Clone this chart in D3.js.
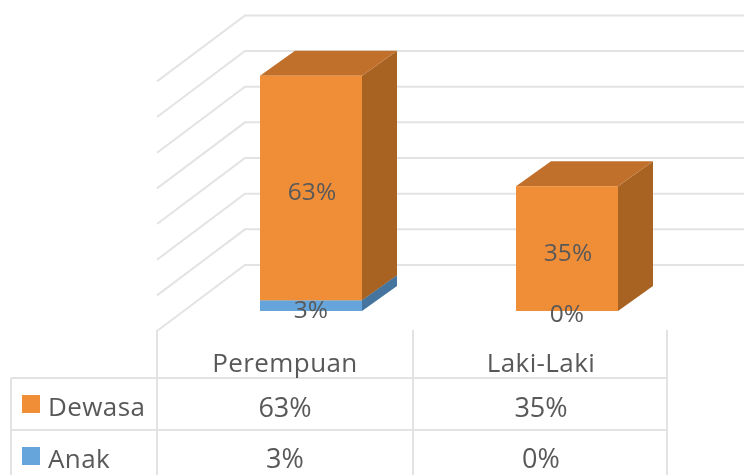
<!DOCTYPE html>
<html><head><meta charset="utf-8">
<script src="https://cdnjs.cloudflare.com/ajax/libs/d3/7.8.5/d3.min.js"></script>
<style>html,body{margin:0;padding:0;background:#fff}svg{display:block}text{font-family:"Open Sans",sans-serif;fill:#595959}</style>
</head><body><svg id="c" width="744" height="475"></svg>
<script>
const categories = ["Perempuan", "Laki-Laki"];
const seriesNames = ["Dewasa", "Anak"];
const dewasa = [63, 35];
const anak = [3, 0];
const gridTicks = [0, 10, 20, 30, 40, 50, 60, 70];

const svg = d3.select("#c");
const defs = svg.append("defs");
defs.append("filter").attr("id", "soft").attr("x", "-5%").attr("y", "-5%").attr("width", "110%").attr("height", "110%")
  .append("feGaussianBlur").attr("stdDeviation", 0.65);
const root = svg.append("g").attr("filter", "url(#soft)");

const y = d3.scaleLinear().domain([0, 70]).range([311, 61.4]);
const x = d3.scaleBand().domain(categories).range([157, 669]);
const barW = 102, barShift = 26;
const dx = 35, dy = -25;           // bar depth
const wallDx = 88, wallDy = -66, wallFront = 20; // wall depth
const colors = {
  Dewasa: { front: "#f08e39", top: "#c0702c", side: "#a86424" },
  Anak: { front: "#65a5db", top: "#4f86b3", side: "#44759f" }
};
const grid = "#e3e3e3";

// back wall grid
gridTicks.forEach(t => {
  const fy = y(t) + wallFront;
  root.append("path").attr("fill", "none").attr("stroke", grid).attr("stroke-width", 2)
    .attr("d", d3.line()([[157, fy], [157 + wallDx, fy + wallDy], [744, fy + wallDy]]));
});

// bars
const series = [{ name: "Anak", vals: anak }, { name: "Dewasa", vals: dewasa }];
categories.forEach((c, i) => {
  const x0 = x(c) + x.bandwidth() / 2 - barW / 2 + barShift, x1 = x0 + barW;
  let base = 0;
  series.forEach(s => {
    const v = s.vals[i];
    if (v > 0) {
      const yb = y(base), yt = y(base + v), col = colors[s.name];
      root.append("path").attr("fill", col.side).attr("d", d3.line()([[x1, yb], [x1 + dx, yb + dy], [x1 + dx, yt + dy], [x1, yt]]) + "Z");
      root.append("path").attr("fill", col.top).attr("d", d3.line()([[x0, yt], [x0 + dx, yt + dy], [x1 + dx, yt + dy], [x1, yt]]) + "Z");
      root.append("rect").attr("x", x0).attr("y", yt).attr("width", barW).attr("height", yb - yt).attr("fill", col.front);
    }
    base += v;
  });
});

// data labels
const fsBar = 24.5, fsName = 26, fsNum = 27;
const baseLabelY = [318, 322];
categories.forEach((c, i) => {
  const cx = x(c) + x.bandwidth() / 2 + barShift + 1;
  root.append("text").attr("x", cx).attr("y", y(anak[i] + dewasa[i] / 2) + 12).attr("text-anchor", "middle").attr("font-size", fsBar).text(dewasa[i] + "%");
  root.append("text").attr("x", cx - 1).attr("y", baseLabelY[i]).attr("text-anchor", "middle").attr("font-size", fsBar).text(anak[i] + "%");
});

// data table
const rowY = [378, 430];
const hl = (x0, x1, yy) => root.append("line").attr("x1", x0).attr("x2", x1).attr("y1", yy).attr("y2", yy).attr("stroke", grid).attr("stroke-width", 2);
const vl = (xx, y0, y1) => root.append("line").attr("x1", xx).attr("x2", xx).attr("y1", y0).attr("y2", y1).attr("stroke", grid).attr("stroke-width", 2);
hl(11, 667, rowY[0]); hl(11, 667, rowY[1]);
vl(11, rowY[0], 475);
[157, 413, 667].forEach(v => vl(v, 330, 475));

categories.forEach((c, i) => {
  const cx = x(c) + x.bandwidth() / 2;
  root.append("text").attr("x", cx).attr("y", 372).attr("text-anchor", "middle").attr("font-size", fsName).attr("letter-spacing", 0.4).text(c);
  root.append("text").attr("x", cx).attr("y", 417).attr("text-anchor", "middle").attr("font-size", fsNum).text(dewasa[i] + "%");
  root.append("text").attr("x", cx).attr("y", 468).attr("text-anchor", "middle").attr("font-size", fsNum).text(anak[i] + "%");
});
seriesNames.forEach((n, i) => {
  root.append("rect").attr("x", 22).attr("y", [395, 447][i]).attr("width", 18).attr("height", 18).attr("fill", colors[n].front);
  root.append("text").attr("x", 48).attr("y", [416, 468][i]).attr("font-size", fsName).attr("letter-spacing", 0.4).text(n);
});
</script></body></html>
